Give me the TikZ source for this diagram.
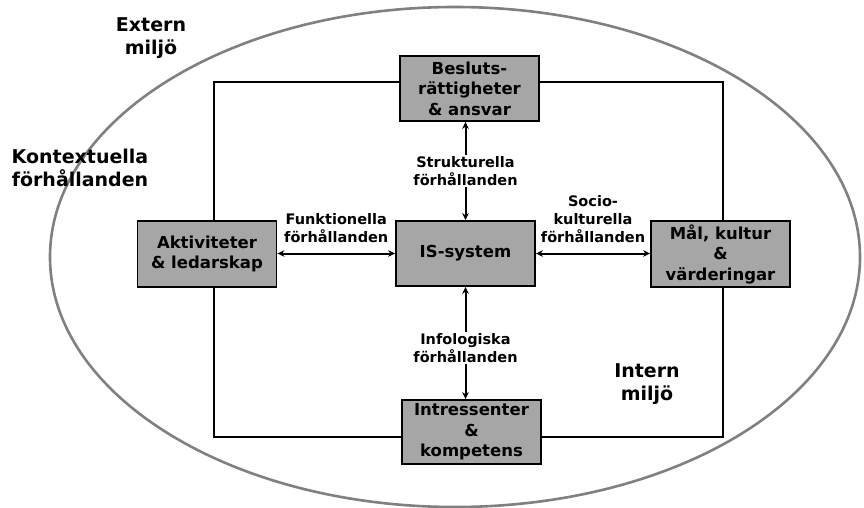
\documentclass[tikz,border=0pt]{standalone}
\usepackage{fontspec}
\setmainfont{DejaVu Sans}
\usetikzlibrary{arrows.meta}
\definecolor{boxgray}{RGB}{166,166,166}
\definecolor{ellgray}{RGB}{128,128,128}
\begin{document}
\begin{tikzpicture}[x=1pt,y=-1pt,
  box/.style={draw=black, line width=1.8pt, fill=boxgray, minimum width=139pt, minimum height=65pt,
    font=\fontsize{16.5}{20.5}\selectfont\bfseries, align=center, inner sep=0pt},
  rel/.style={font=\fontsize{14.5}{18}\selectfont\bfseries, align=center, inner sep=1pt},
  env/.style={font=\fontsize{19}{23}\selectfont\bfseries, align=center, inner sep=0pt},
  arr/.style={line width=2pt, {Stealth[length=7pt,width=6.5pt]}-{Stealth[length=7pt,width=6.5pt]}}
]
\useasboundingbox (0,0) rectangle (864,508);
\draw[line width=2.6pt, draw=ellgray] (455,257) ellipse [x radius=405pt, y radius=250pt];
\draw[line width=2.2pt] (214,82) rectangle (723,437);

\node[box] (top) at (469.5,88.5) {Besluts-\\rättigheter\\\& ansvar};
\node[box, minimum height=66pt] (left) at (207,254) {Aktiviteter\\\& ledarskap};
\node[box] (is) at (465.5,253.5) {IS-system};
\node[box, minimum height=66pt] (right) at (720.5,254) {Mål, kultur\\\&\\värderingar};
\node[box, minimum height=64pt] (bot) at (471.5,432) {Intressenter\\\&\\kompetens};

\draw[arr] (is.north) -- (is.north |- top.south)
  node[rel, fill=white, midway] (lstr) {Strukturella\\förhållanden};
\draw[arr] (is.south) -- (is.south |- bot.north)
  node[rel, fill=white, pos=0.545] (linf) {Infologiska\\förhållanden};
\draw[arr] (left.east |- is.west) -- (is.west)
  node[rel, midway, above=9pt] (lfun) {Funktionella\\förhållanden};
\draw[arr] (is.east) -- (is.east -| right.west)
  node[rel, midway, above=9pt] (lsoc) {Socio-\\kulturella\\förhållanden};

\node[env] (ext) at (151,38.5) {Extern\\miljö};
\node[env] (kon) at (80,167.5) {Kontextuella\\förhållanden};
\node[env] (int) at (647,384) {Intern\\miljö};
\end{tikzpicture}
\end{document}
